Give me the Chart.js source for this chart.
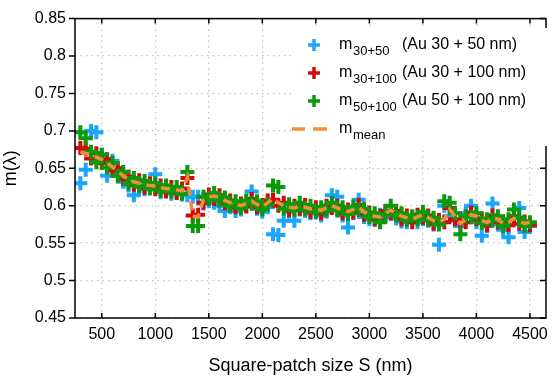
<!DOCTYPE html>
<html>
<head>
<meta charset="utf-8">
<script src="https://cdn.jsdelivr.net/npm/chart.js@4.4.0/dist/chart.umd.min.js"></script>
<style>
html, body { margin: 0; padding: 0; background: #fff; }
</style>
</head>
<body>
<canvas id="chart" width="557" height="377"></canvas>
<script>
// Square-patch size S (nm)
const sizes = [300, 350, 400, 450, 500, 550, 600, 650, 700, 750, 800, 850, 900, 950, 1000,
    1050, 1100, 1150, 1200, 1250, 1300, 1350, 1400, 1450, 1500, 1550, 1600, 1650, 1700, 1750,
    1800, 1850, 1900, 1950, 2000, 2050, 2100, 2150, 2200, 2250, 2300, 2350, 2400, 2450, 2500,
    2550, 2600, 2650, 2700, 2750, 2800, 2850, 2900, 2950, 3000, 3050, 3100, 3150, 3200, 3250,
    3300, 3350, 3400, 3450, 3500, 3550, 3600, 3650, 3700, 3750, 3800, 3850, 3900, 3950, 4000,
    4050, 4100, 4150, 4200, 4250, 4300, 4350, 4400, 4450, 4500];

// m(lambda) per patch size
const m3050 = [0.630, 0.648, 0.700, 0.698, 0.668, 0.640, 0.660, 0.645, 0.632, 0.627, 0.614, 0.625, 0.622, 0.628, 0.642,
    0.618, 0.621, 0.616, 0.619, 0.615, 0.614, 0.612, 0.612, 0.603, 0.606, 0.604, 0.600, 0.593, 0.598, 0.593,
    0.595, 0.600, 0.619, 0.596, 0.592, 0.598, 0.562, 0.561, 0.580, 0.592, 0.580, 0.595, 0.593, 0.590, 0.591,
    0.587, 0.592, 0.614, 0.612, 0.587, 0.571, 0.590, 0.608, 0.585, 0.582, 0.581, 0.588, 0.585, 0.589, 0.583,
    0.579, 0.578, 0.584, 0.578, 0.582, 0.580, 0.575, 0.548, 0.600, 0.586, 0.580, 0.573, 0.590, 0.600, 0.578,
    0.560, 0.573, 0.603, 0.576, 0.568, 0.558, 0.583, 0.597, 0.565, 0.573];

const m30100 = [0.677, 0.676, 0.663, 0.670, 0.657, 0.662, 0.647, 0.650, 0.636, 0.639, 0.628, 0.634, 0.624, 0.630, 0.622,
    0.627, 0.619, 0.625, 0.617, 0.623, 0.637, 0.587, 0.588, 0.604, 0.615, 0.609, 0.614, 0.603, 0.607, 0.598,
    0.603, 0.599, 0.609, 0.598, 0.601, 0.607, 0.608, 0.600, 0.604, 0.594, 0.600, 0.596, 0.601, 0.592, 0.598,
    0.590, 0.600, 0.597, 0.600, 0.590, 0.595, 0.591, 0.601, 0.588, 0.591, 0.582, 0.580, 0.593, 0.590, 0.593,
    0.582, 0.587, 0.578, 0.588, 0.584, 0.587, 0.576, 0.581, 0.578, 0.597, 0.582, 0.579, 0.578, 0.591, 0.582,
    0.583, 0.574, 0.587, 0.578, 0.579, 0.574, 0.586, 0.576, 0.579, 0.574];

const m50100 = [0.698, 0.690, 0.672, 0.658, 0.668, 0.651, 0.657, 0.640, 0.645, 0.630, 0.637, 0.626, 0.633, 0.623, 0.630,
    0.620, 0.627, 0.619, 0.625, 0.616, 0.645, 0.573, 0.573, 0.612, 0.609, 0.617, 0.607, 0.611, 0.600, 0.606,
    0.597, 0.607, 0.603, 0.606, 0.595, 0.602, 0.627, 0.625, 0.596, 0.602, 0.594, 0.604, 0.595, 0.600, 0.592,
    0.598, 0.594, 0.604, 0.594, 0.598, 0.589, 0.599, 0.595, 0.596, 0.585, 0.590, 0.578, 0.588, 0.600, 0.587,
    0.590, 0.581, 0.586, 0.582, 0.592, 0.581, 0.584, 0.575, 0.606, 0.604, 0.590, 0.562, 0.586, 0.585, 0.590,
    0.577, 0.582, 0.581, 0.586, 0.573, 0.582, 0.595, 0.584, 0.573, 0.578];

const mMean = [0.672, 0.670, 0.668, 0.665, 0.662, 0.657, 0.652, 0.646, 0.640, 0.635, 0.632, 0.630, 0.628, 0.627, 0.626,
    0.624, 0.623, 0.622, 0.621, 0.620, 0.638, 0.586, 0.585, 0.608, 0.612, 0.613, 0.611, 0.607, 0.604, 0.602,
    0.600, 0.603, 0.606, 0.602, 0.598, 0.604, 0.610, 0.604, 0.600, 0.598, 0.597, 0.600, 0.598, 0.596, 0.595,
    0.594, 0.597, 0.600, 0.597, 0.594, 0.592, 0.595, 0.598, 0.592, 0.588, 0.586, 0.585, 0.590, 0.594, 0.590,
    0.586, 0.584, 0.582, 0.585, 0.588, 0.584, 0.580, 0.578, 0.582, 0.595, 0.586, 0.576, 0.582, 0.588, 0.586,
    0.580, 0.578, 0.584, 0.582, 0.576, 0.578, 0.583, 0.580, 0.576, 0.578];

const xTicks = [500, 1000, 1500, 2000, 2500, 3000, 3500, 4000, 4500];
const yTicks = [0.45, 0.5, 0.55, 0.6, 0.65, 0.7, 0.75, 0.8, 0.85];

const colors = {
    blue: '#1aa6ff',
    red: '#d20a0a',
    green: '#0b9a0b',
    orange: '#f28e3a'
};

const FONT = "'Liberation Sans', Arial, sans-serif";

function toPoints(ys) {
    return sizes.map((s, i) => ({ x: s, y: ys[i] }));
}

// lower order is drawn on top
function crossSet(label, ys, color, order) {
    return {
        label: label,
        data: toPoints(ys),
        showLine: false,
        pointStyle: 'cross',
        pointRadius: 7,
        pointBorderWidth: 4,
        borderColor: color,
        backgroundColor: color,
        order: order
    };
}

// box with ticks like the original figure
const framePlugin = {
    id: 'frame',
    afterDatasetsDraw(chart) {
        const { ctx, chartArea: a, scales } = chart;
        ctx.save();
        ctx.strokeStyle = '#000';
        ctx.lineWidth = 1.5;
        ctx.strokeRect(a.left, a.top, a.right - a.left, a.bottom - a.top);
        ctx.beginPath();
        xTicks.forEach(v => {
            const px = scales.x.getPixelForValue(v);
            ctx.moveTo(px, a.bottom); ctx.lineTo(px, a.bottom - 5);
            ctx.moveTo(px, a.top); ctx.lineTo(px, a.top + 5);
        });
        yTicks.forEach(v => {
            const py = scales.y.getPixelForValue(v);
            ctx.moveTo(a.left, py); ctx.lineTo(a.left - 6, py);
            ctx.moveTo(a.right, py); ctx.lineTo(a.right - 6, py);
        });
        ctx.stroke();
        ctx.restore();
    }
};

// legend with subscripts
const legendPlugin = {
    id: 'subLegend',
    afterDatasetsDraw(chart) {
        const ctx = chart.ctx;
        const entries = [
            { color: colors.blue, sub: '30+50', text: '(Au 30 + 50 nm)', y: 45 },
            { color: colors.red, sub: '30+100', text: '(Au 30 + 100 nm)', y: 73 },
            { color: colors.green, sub: '50+100', text: '(Au 50 + 100 nm)', y: 101 },
            { color: colors.orange, sub: 'mean', text: '', y: 129, dashed: true }
        ];
        ctx.save();
        ctx.fillStyle = '#fff';
        ctx.fillRect(293, 28, 254, 118);
        entries.forEach(e => {
            ctx.strokeStyle = e.color;
            ctx.lineWidth = 3.5;
            ctx.beginPath();
            if (e.dashed) {
                ctx.moveTo(292, e.y); ctx.lineTo(305, e.y);
                ctx.moveTo(313, e.y); ctx.lineTo(327, e.y);
            } else {
                ctx.moveTo(308, e.y); ctx.lineTo(320, e.y);
                ctx.moveTo(314, e.y - 6); ctx.lineTo(314, e.y + 6);
            }
            ctx.stroke();
            ctx.fillStyle = '#000';
            ctx.textBaseline = 'alphabetic';
            ctx.font = '16px ' + FONT;
            ctx.fillText('m', 339, e.y + 4);
            ctx.font = '13px ' + FONT;
            ctx.fillText(e.sub, 353, e.y + 10);
            if (e.text) {
                ctx.font = '16px ' + FONT;
                ctx.fillText(e.text, 402, e.y + 4);
            }
        });
        ctx.restore();
    }
};

new Chart(document.getElementById('chart'), {
    type: 'scatter',
    data: {
        datasets: [
            crossSet('m30+50', m3050, colors.blue, 3),
            crossSet('m30+100', m30100, colors.red, 2),
            crossSet('m50+100', m50100, colors.green, 1),
            {
                label: 'mmean',
                data: toPoints(mMean),
                showLine: true,
                pointRadius: 0,
                borderColor: colors.orange,
                borderWidth: 3.5,
                borderDash: [9, 6],
                tension: 0,
                order: 0
            }
        ]
    },
    options: {
        responsive: false,
        animation: false,
        devicePixelRatio: 1,
        layout: { padding: { top: 9, right: 4, left: 0, bottom: 0 } },
        plugins: {
            legend: { display: false },
            tooltip: { enabled: false }
        },
        scales: {
            x: {
                type: 'linear',
                min: 250,
                max: 4650,
                afterBuildTicks: s => { s.ticks = xTicks.map(v => ({ value: v })); },
                afterFit: s => { s.height = 59; },
                grid: { color: '#c4c4c4', lineWidth: 1.3, drawTicks: false },
                border: { display: false, dash: [1.5, 4] },
                ticks: {
                    color: '#000',
                    padding: 7,
                    font: { family: FONT, size: 16 },
                    maxRotation: 0,
                    callback: v => String(v)
                },
                title: {
                    display: true,
                    text: 'Square-patch size S (nm)',
                    color: '#000',
                    font: { family: FONT, size: 18 },
                    padding: { top: 2, bottom: 0 }
                }
            },
            y: {
                min: 0.45,
                max: 0.85,
                afterBuildTicks: s => { s.ticks = yTicks.map(v => ({ value: v })); },
                afterFit: s => { s.width = 75; },
                grid: { color: '#c4c4c4', lineWidth: 1.3, drawTicks: false },
                border: { display: false, dash: [1.5, 4] },
                ticks: {
                    color: '#000',
                    padding: 9,
                    font: { family: FONT, size: 16 },
                    callback: v => String(+v.toFixed(2))
                },
                title: {
                    display: true,
                    text: 'm(λ)',
                    color: '#000',
                    font: { family: FONT, size: 18 },
                    padding: { top: 0, bottom: 4 }
                }
            }
        }
    },
    plugins: [framePlugin, legendPlugin]
});
</script>
</body>
</html>
